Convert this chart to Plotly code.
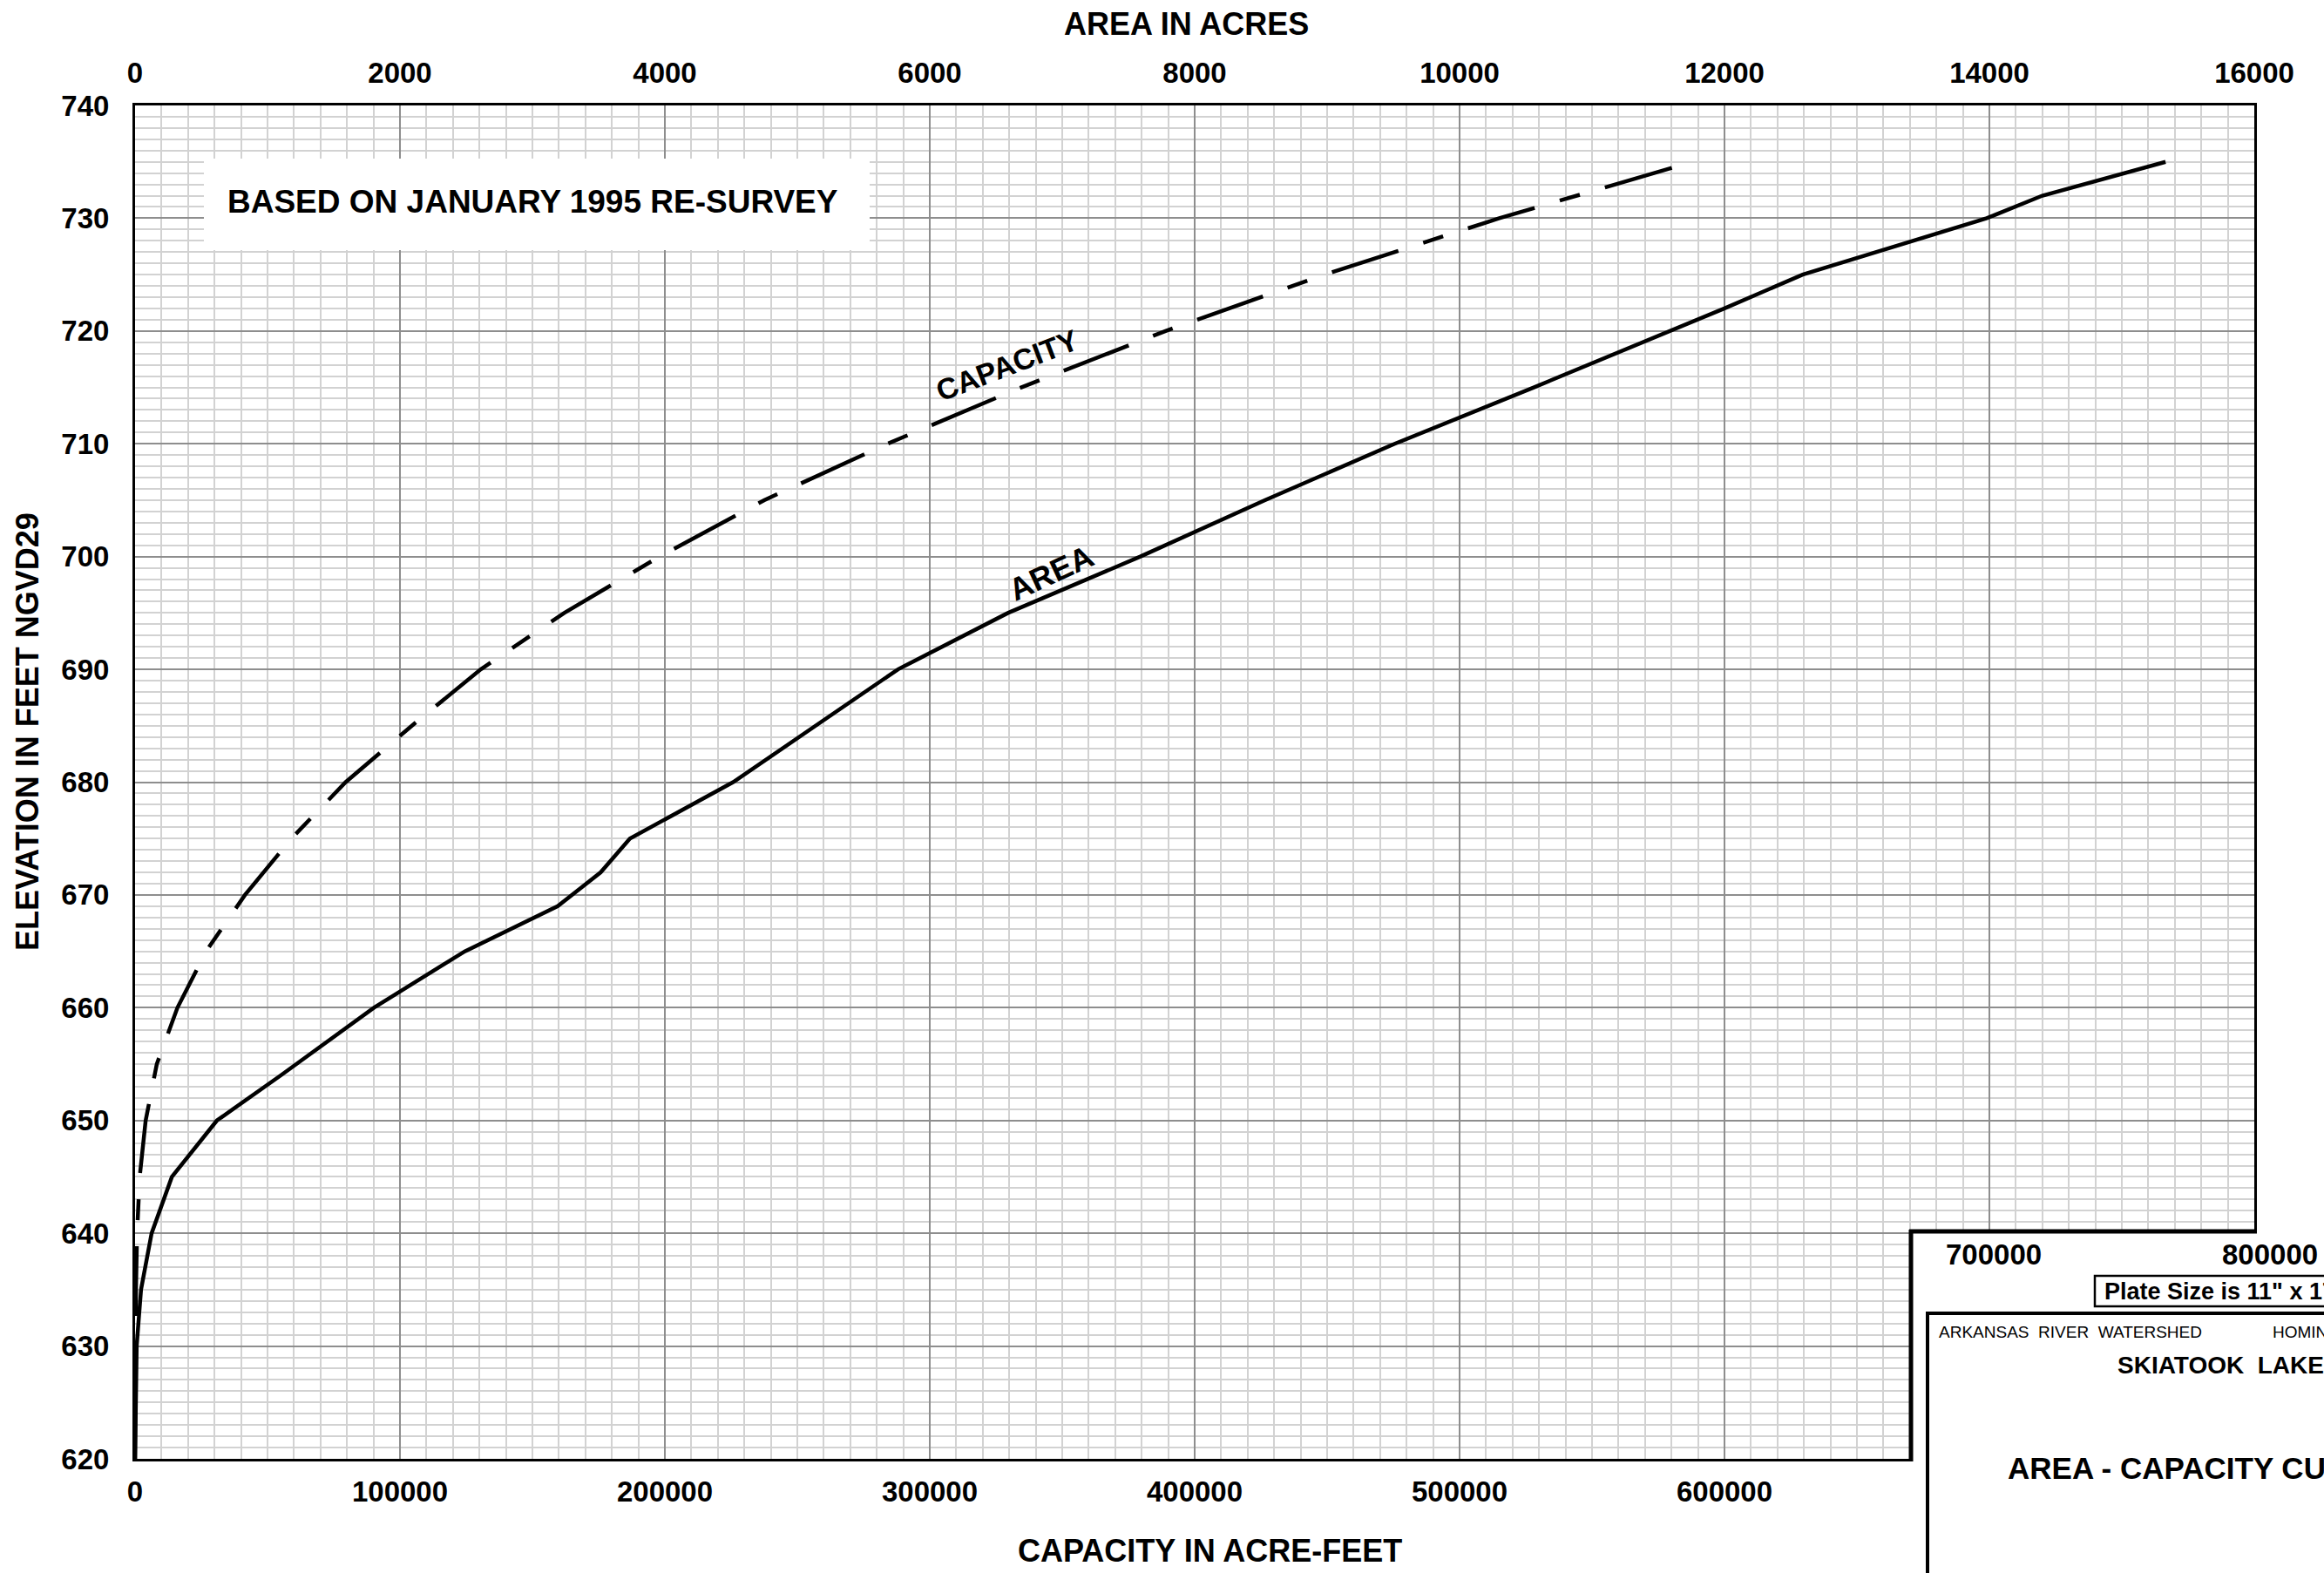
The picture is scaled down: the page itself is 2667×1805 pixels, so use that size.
import plotly.graph_objects as go

# ---- Reservoir data (Skiatook Lake, January 1995 re-survey) ----
# Storage capacity curve (acre-feet) by pool elevation (ft NGVD29)
cap_elev = [620, 625, 630, 635, 640, 645, 650, 655, 660, 665, 670, 675,
            680, 685, 690, 695, 700, 705, 710, 715, 720, 725, 730, 735]
capacity_acft = [0, 45, 185, 330, 750, 1750, 4000, 8200, 16000, 26800, 41500, 59000,
                 79500, 104500, 130500, 162000, 198000, 237500, 284000, 334500,
                 389000, 449000, 515000, 588000]

# Surface area curve (acres) by pool elevation
area_elev = [620, 625, 630, 635, 640, 645, 650, 654, 660, 665, 669, 672, 675,
             680, 685, 690, 695, 700, 705, 710, 715, 720, 722, 725, 730, 732, 735]
area_acres = [0, 5, 12, 45, 125, 278, 618, 1100, 1803, 2490, 3191, 3515, 3736,
              4515, 5140, 5760, 6590, 7590, 8530, 9510, 10560, 11600, 12000,
              12590, 13980, 14400, 15330]

# Axis ranges and bottom-axis ticks (the last two labels sit in the title block)
cap_range = [0, 800000]
area_range = [0, 16000]
elev_range = [620, 740]
cap_tickvals = [0, 100000, 200000, 300000, 400000, 500000, 600000, 700000, 800000]
cap_ticktext = ["0", "100000", "200000", "300000", "400000", "500000", "600000", "", ""]

FONT = "Liberation Sans, Arial, sans-serif"
MAJOR_GRID = "#8e8e8e"
MINOR_GRID = "#d2d2d2"

W, H = 2667, 1805
PL, PR, PT, PB = 155, 2587, 121, 1674  # plotting area edges in pixels


def fx(p):
    """pixel column -> paper x"""
    return (p - PL) / (PR - PL)


def fy(p):
    """pixel row -> paper y"""
    return (PB - p) / (PB - PT)


def bold(size):
    return dict(family=FONT, size=size, color="black", weight="bold")


fig = go.Figure()

fig.add_trace(go.Scatter(
    x=capacity_acft, y=cap_elev, xaxis="x", yaxis="y", mode="lines",
    line=dict(color="black", width=4.5, dash="80px,30px,24px,30px"),
    name="CAPACITY", hoverinfo="x+y"))

fig.add_trace(go.Scatter(
    x=area_acres, y=area_elev, xaxis="x2", yaxis="y", mode="lines",
    line=dict(color="black", width=4.5),
    name="AREA", hoverinfo="x+y"))

fig.update_layout(
    width=W, height=H,
    margin=dict(l=PL, r=W - PR, t=PT, b=H - PB, pad=0),
    paper_bgcolor="white", plot_bgcolor="white",
    showlegend=False,
    xaxis=dict(
        range=cap_range, tickmode="array", tickvals=cap_tickvals, ticktext=cap_ticktext,
        showgrid=True, gridcolor=MAJOR_GRID, gridwidth=2,
        minor=dict(dtick=10000, tick0=0, showgrid=True, gridcolor=MINOR_GRID, gridwidth=1.5),
        showline=True, linecolor="black", linewidth=3, mirror=True,
        zeroline=False, ticks="", tickfont=bold(33), ticklabelstandoff=6),
    xaxis2=dict(
        range=area_range, tick0=0, dtick=2000, tickformat="d",
        overlaying="x", side="top", anchor="y",
        showgrid=False, showline=False, zeroline=False,
        ticks="", tickfont=bold(33), ticklabelstandoff=18),
    yaxis=dict(
        range=elev_range, tick0=620, dtick=10,
        showgrid=True, gridcolor=MAJOR_GRID, gridwidth=2,
        minor=dict(dtick=1, tick0=620, showgrid=True, gridcolor=MINOR_GRID, gridwidth=1.5),
        showline=True, linecolor="black", linewidth=3, mirror=True,
        zeroline=False, ticks="", tickfont=bold(33), ticklabelstandoff=20),
)

annotations = [
    # axis titles
    dict(text="AREA IN ACRES", x=fx(1361), y=fy(27), font=bold(36)),
    dict(text="CAPACITY IN ACRE-FEET", x=fx(1388), y=fy(1779), font=bold(36)),
    dict(text="ELEVATION IN FEET NGVD29", x=fx(31), y=fy(840), font=bold(36), textangle=-90),
    # survey note
    dict(text="BASED ON JANUARY 1995 RE-SURVEY", x=fx(259), y=fy(231),
         xanchor="left", font=bold(37)),
    # curve labels
    dict(text="CAPACITY", x=fx(1156), y=fy(419), font=bold(34), textangle=-21),
    dict(text="AREA", x=fx(1206), y=fy(657), font=bold(36), textangle=-25),
    # title block
    dict(text="700000", x=fx(2288), y=fy(1439), font=bold(33)),
    dict(text="800000", x=fx(2548), y=fy(1439), xanchor="left", font=bold(33)),
    dict(text="Plate Size is 11\" x 17\"", x=fx(2413), y=fy(1482), xanchor="left", font=bold(27)),
    dict(text="ARKANSAS  RIVER  WATERSHED", x=fx(2223), y=fy(1528), xanchor="left",
         font=dict(family=FONT, size=19, color="black")),
    dict(text="HOMINY  CREEK", x=fx(2606), y=fy(1528), xanchor="left",
         font=dict(family=FONT, size=19, color="black")),
    dict(text="SKIATOOK  LAKE", x=fx(2428), y=fy(1566), xanchor="left", font=bold(28)),
    dict(text="AREA - CAPACITY CURVES", x=fx(2302), y=fy(1685), xanchor="left", font=bold(35)),
]
for a in annotations:
    a.setdefault("xanchor", "center")
    a.update(xref="paper", yref="paper", yanchor="middle", showarrow=False)
fig.update_layout(annotations=annotations)

shapes = [
    # white backing behind the survey note
    dict(type="rect", x0=fx(234), x1=fx(998), y0=fy(287), y1=fy(182),
         fillcolor="white", line=dict(width=0)),
    # title block panel covering the lower-right corner
    dict(type="rect", x0=fx(2193), x1=fx(2800), y0=fy(1900), y1=fy(1413),
         fillcolor="white", line=dict(width=0)),
    dict(type="line", x0=fx(2191), x1=fx(2590), y0=fy(1413), y1=fy(1413),
         line=dict(color="black", width=5)),
    dict(type="line", x0=fx(2193), x1=fx(2193), y0=fy(1411), y1=fy(1677),
         line=dict(color="black", width=5)),
    # plate size box
    dict(type="rect", x0=fx(2404), x1=fx(2720), y0=fy(1499), y1=fy(1464),
         fillcolor="white", line=dict(color="black", width=2.5)),
    # inner title box
    dict(type="rect", x0=fx(2212), x1=fx(2800), y0=fy(1900), y1=fy(1507),
         fillcolor="rgba(0,0,0,0)", line=dict(color="black", width=4)),
]
for s in shapes:
    s.update(xref="paper", yref="paper", layer="above")
fig.update_layout(shapes=shapes)

fig.write_html("out.html")
